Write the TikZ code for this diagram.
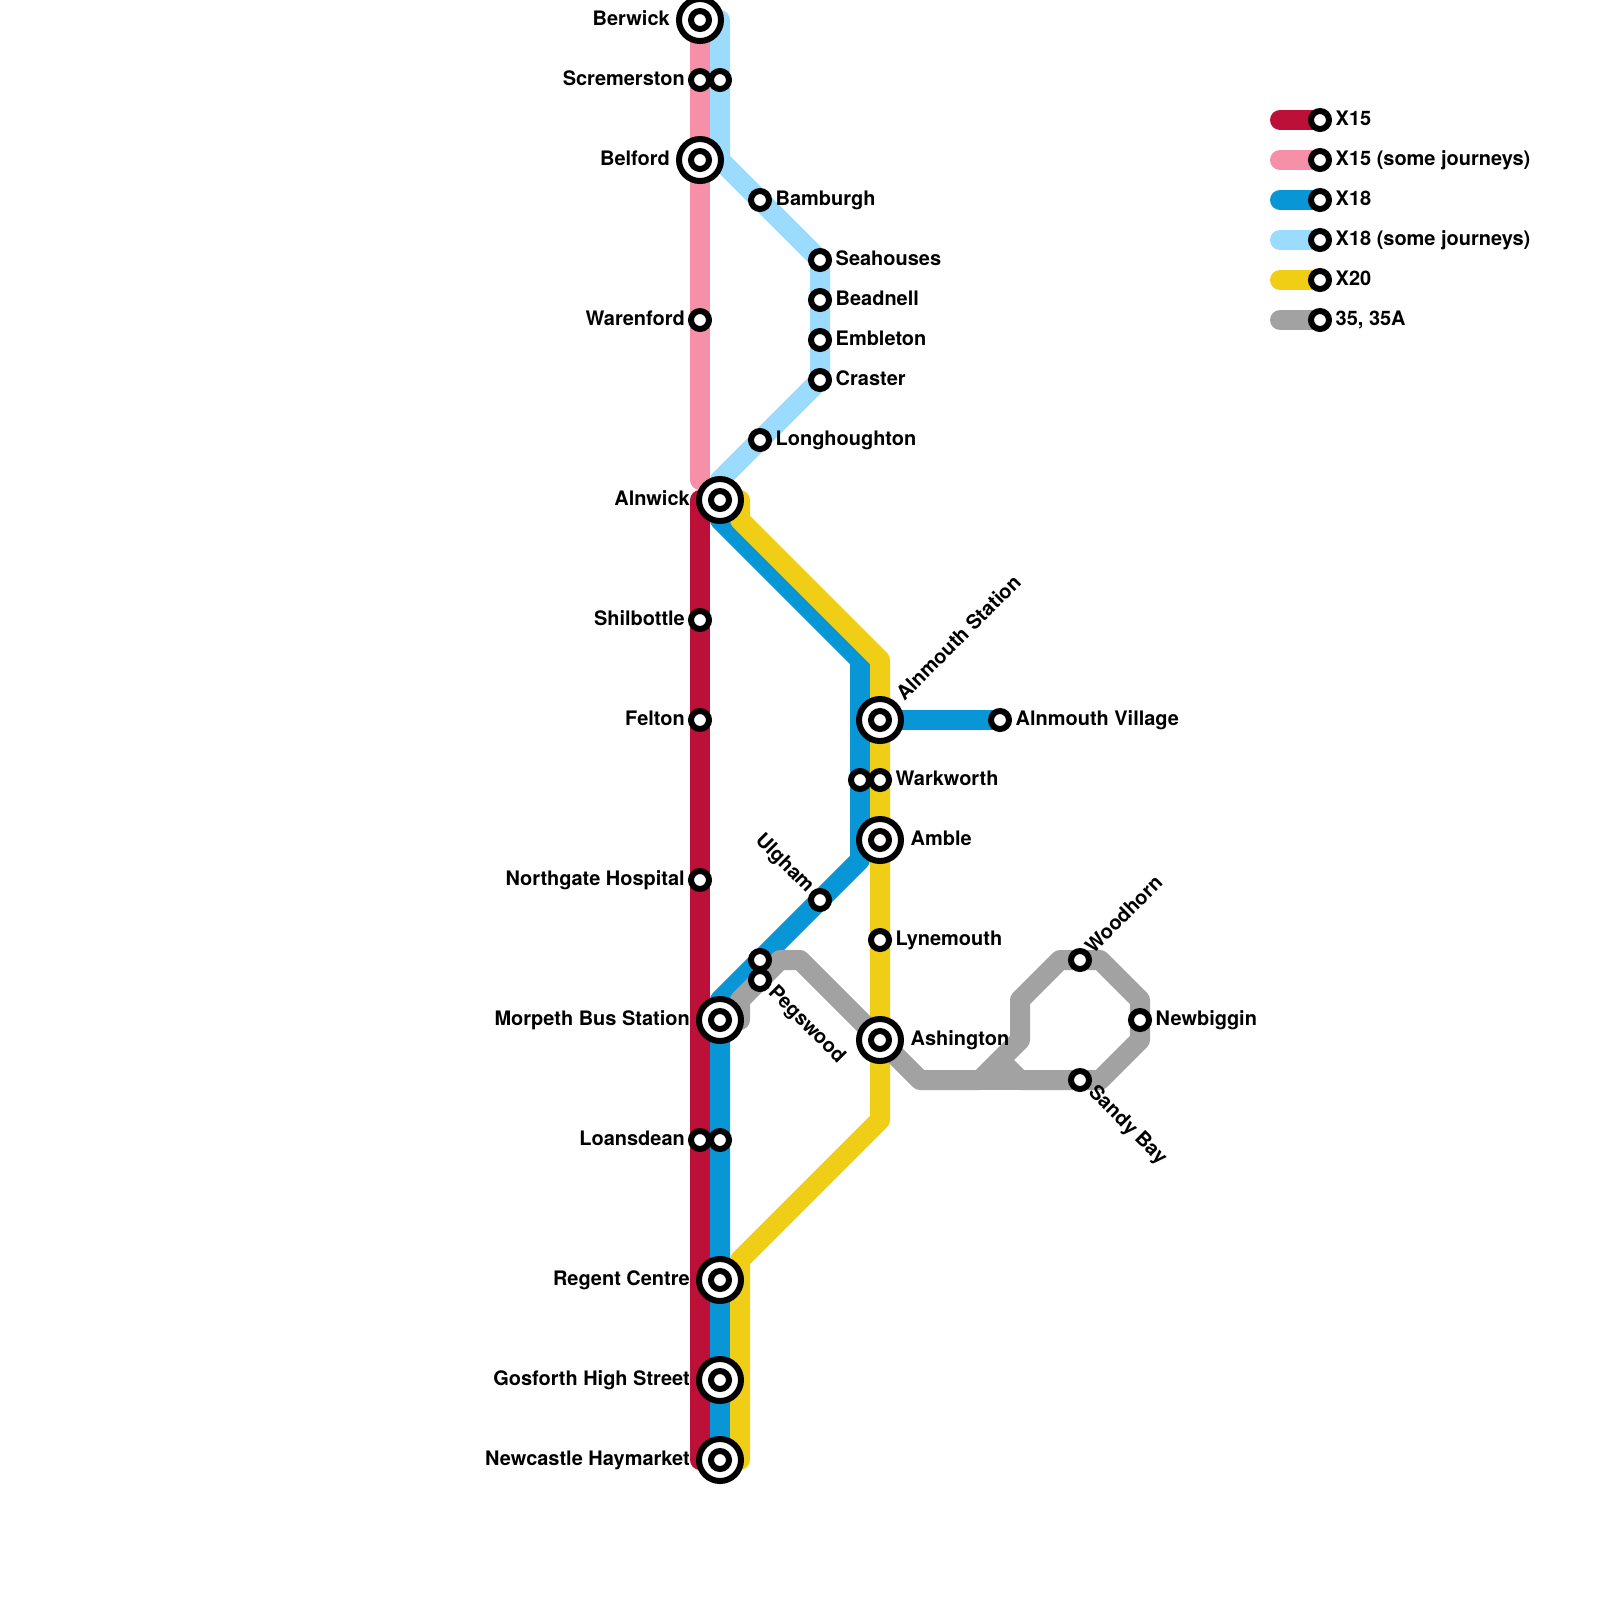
\documentclass[tikz,border=0pt]{standalone}
\usepackage{fontspec}
\setmainfont{TeX Gyre Heros}
\usetikzlibrary{backgrounds}
\definecolor{xfifteen}{HTML}{BD1038}
\definecolor{xfifteensome}{HTML}{F68FA8}
\definecolor{xeighteen}{HTML}{0896D7}
\definecolor{xeighteensome}{HTML}{9BDBFE}
\definecolor{xtwenty}{HTML}{F0CE15}
\definecolor{thirtyfive}{HTML}{A2A2A2}
\tikzset{
route/.style={line width=0.2cm,line cap=round,line join=round},
stopnode/.style={circle,draw=black,fill=white,line width=0.06cm,minimum size=0.18cm,inner sep=0pt},
hubnode/.style={circle,draw=black,fill=white,line width=0.06cm,minimum size=0.42cm,inner sep=0pt,
  path picture={\draw [black,line width=0.06cm] (path picture bounding box.center) circle (0.09cm);}},
place/.style={inner sep=0pt,font=\bfseries\fontsize{5.68pt}{6pt}\selectfont,text=black},
placer/.style={place,anchor=base west,xshift=0.15cm,yshift=-0.05cm},
placel/.style={place,anchor=base east,xshift=-0.145cm,yshift=-0.05cm},
hubr/.style={place,anchor=base west,xshift=0.3cm,yshift=-0.05cm},
hubl/.style={place,anchor=base east,xshift=-0.295cm,yshift=-0.05cm},
placeup/.style={place,anchor=base west,rotate=45},
placedown/.style={place,anchor=base west,rotate=-45},
placedownl/.style={place,anchor=base east,rotate=-45}
}
\begin{document}
\begin{tikzpicture}[x=0.2cm,y=0.2cm]
\useasboundingbox (0,0) rectangle (80,-80);
\node [hubnode] (berwick) at (35,-1) {};
\node [stopnode] (scremerston) at (35,-4) {};
\node [stopnode] (scremerstonb) at (36,-4) {};
\node [hubnode] (belford) at (35,-8) {};
\node [stopnode] (warenford) at (35,-16) {};
\node [hubnode] (alnwick) at (36,-25) {};
\node [stopnode] (shilbottle) at (35,-31) {};
\node [stopnode] (felton) at (35,-36) {};
\node [stopnode] (northgate) at (35,-44) {};
\node [hubnode] (morpeth) at (36,-51) {};
\node [stopnode] (loansdean) at (35,-57) {};
\node [stopnode] (loansdeanb) at (36,-57) {};
\node [hubnode] (regent) at (36,-64) {};
\node [hubnode] (gosforth) at (36,-69) {};
\node [hubnode] (newcastle) at (36,-73) {};
\node [stopnode] (bamburgh) at (38,-10) {};
\node [stopnode] (seahouses) at (41,-13) {};
\node [stopnode] (beadnell) at (41,-15) {};
\node [stopnode] (embleton) at (41,-17) {};
\node [stopnode] (craster) at (41,-19) {};
\node [stopnode] (longhoughton) at (38,-22) {};
\node [hubnode] (alnmouth) at (44,-36) {};
\node [stopnode] (village) at (50,-36) {};
\node [stopnode] (warkworthb) at (43,-39) {};
\node [stopnode] (warkworth) at (44,-39) {};
\node [hubnode] (amble) at (44,-42) {};
\node [stopnode] (ulgham) at (41,-45) {};
\node [stopnode] (lynemouth) at (44,-47) {};
\node [stopnode] (pegswoodb) at (38,-48) {};
\node [stopnode] (pegswood) at (38,-49) {};
\node [hubnode] (ashington) at (44,-52) {};
\node [stopnode] (woodhorn) at (54,-48) {};
\node [stopnode] (newbiggin) at (57,-51) {};
\node [stopnode] (sandybay) at (54,-54) {};
\node [stopnode] (keya) at (66,-6) {};
\node [stopnode] (keyb) at (66,-8) {};
\node [stopnode] (keyc) at (66,-10) {};
\node [stopnode] (keyd) at (66,-12) {};
\node [stopnode] (keye) at (66,-14) {};
\node [stopnode] (keyf) at (66,-16) {};
\coordinate (pinkend) at (35,-24);
\coordinate (redtop) at (35,-25);
\coordinate (redend) at (35,-73);
\coordinate (skyfrom) at (36,-1);
\coordinate (skya) at (36,-8);
\coordinate (skyb) at (36,-24);
\coordinate (bluea) at (36,-26);
\coordinate (blueb) at (43,-33);
\coordinate (bluec) at (43,-43);
\coordinate (blued) at (36,-50);
\coordinate (yellowfrom) at (37,-25);
\coordinate (yellowa) at (37,-26);
\coordinate (yellowb) at (44,-33);
\coordinate (yellowc) at (44,-56);
\coordinate (yellowd) at (37,-63);
\coordinate (yellowend) at (37,-73);
\coordinate (greyfrom) at (37,-51);
\coordinate (greya) at (37,-50);
\coordinate (greyb) at (39,-48);
\coordinate (greyc) at (40,-48);
\coordinate (greyd) at (46,-54);
\coordinate (greye) at (49,-54);
\coordinate (greyf) at (51,-52);
\coordinate (greyg) at (51,-50);
\coordinate (greyh) at (53,-48);
\coordinate (greyi) at (55,-48);
\coordinate (greyj) at (57,-50);
\coordinate (greyk) at (57,-52);
\coordinate (greyl) at (55,-54);
\coordinate (greym) at (51,-54);
\coordinate (greyend) at (50,-53);
\coordinate (keyfroma) at (64,-6);
\coordinate (keyfromb) at (64,-8);
\coordinate (keyfromc) at (64,-10);
\coordinate (keyfromd) at (64,-12);
\coordinate (keyfrome) at (64,-14);
\coordinate (keyfromf) at (64,-16);
\begin{scope}[on background layer]
\draw [route,xfifteensome] (berwick.center) -- (pinkend);
\draw [route,xfifteen] (redtop) -- (redend);
\draw [route,xeighteensome] (skyfrom) -- (skya) -- (seahouses.center) -- (craster.center) -- (skyb) -- (alnwick.center);
\draw [route,xeighteen] (alnwick.center) -- (bluea) -- (blueb) -- (bluec) -- (blued) -- (newcastle.center);
\draw [route,xeighteen] (alnmouth.center) -- (village.center);
\draw [route,xtwenty] (yellowfrom) -- (yellowa) -- (yellowb) -- (yellowc) -- (yellowd) -- (yellowend);
\draw [route,thirtyfive] (greyfrom) -- (greya) -- (greyb) -- (greyc) -- (ashington.center) -- (greyd) -- (greye) -- (greyf) -- (greyg) -- (greyh) -- (greyi) -- (greyj) -- (greyk) -- (greyl) -- (greym) -- (greyend);
\draw [route,thirtyfive] (greye) -- (greym);
\draw [route,xfifteen] (keyfroma) -- (keya.center);
\draw [route,xfifteensome] (keyfromb) -- (keyb.center);
\draw [route,xeighteen] (keyfromc) -- (keyc.center);
\draw [route,xeighteensome] (keyfromd) -- (keyd.center);
\draw [route,xtwenty] (keyfrome) -- (keye.center);
\draw [route,thirtyfive] (keyfromf) -- (keyf.center);
\end{scope}
\node [hubl] (berwicktext) at (berwick.center) {Berwick};
\node [placel] (scremerstontext) at (scremerston.center) {Scremerston};
\node [hubl] (belfordtext) at (belford.center) {Belford};
\node [placel] (warenfordtext) at (warenford.center) {Warenford};
\node [hubl] (alnwicktext) at (alnwick.center) {Alnwick};
\node [placel] (shilbottletext) at (shilbottle.center) {Shilbottle};
\node [placel] (feltontext) at (felton.center) {Felton};
\node [placel] (northgatetext) at (northgate.center) {Northgate Hospital};
\node [hubl] (morpethtext) at (morpeth.center) {Morpeth Bus Station};
\node [placel] (loansdeantext) at (loansdean.center) {Loansdean};
\node [hubl] (regenttext) at (regent.center) {Regent Centre};
\node [hubl] (gosforthtext) at (gosforth.center) {Gosforth High Street};
\node [hubl] (newcastletext) at (newcastle.center) {Newcastle Haymarket};
\node [placer] (bamburghtext) at (bamburgh.center) {Bamburgh};
\node [placer] (seahousestext) at (seahouses.center) {Seahouses};
\node [placer] (beadnelltext) at (beadnell.center) {Beadnell};
\node [placer] (embletontext) at (embleton.center) {Embleton};
\node [placer] (crastertext) at (craster.center) {Craster};
\node [placer] (longhoughtontext) at (longhoughton.center) {Longhoughton};
\node [placeup] (alnmouthtext) at ([xshift=0.24cm,yshift=0.18cm]alnmouth.center) {Alnmouth Station};
\node [placer] (villagetext) at (village.center) {Alnmouth Village};
\node [placer] (warkworthtext) at (warkworth.center) {Warkworth};
\node [hubr] (ambletext) at (amble.center) {Amble};
\node [placedownl] (ulghamtext) at ([xshift=-0.13cm,yshift=0.06cm]ulgham.center) {Ulgham};
\node [placer] (lynemouthtext) at (lynemouth.center) {Lynemouth};
\node [placedown] (pegswoodtext) at ([xshift=0.07cm,yshift=-0.13cm]pegswood.center) {Pegswood};
\node [hubr] (ashingtontext) at (ashington.center) {Ashington};
\node [placeup] (woodhorntext) at ([xshift=0.13cm,yshift=0.05cm]woodhorn.center) {Woodhorn};
\node [placer] (newbiggintext) at (newbiggin.center) {Newbiggin};
\node [placedown] (sandybaytext) at ([xshift=0.07cm,yshift=-0.13cm]sandybay.center) {Sandy Bay};
\node [placer] (keyatext) at (keya.center) {X15};
\node [placer] (keybtext) at (keyb.center) {X15 (some journeys)};
\node [placer] (keyctext) at (keyc.center) {X18};
\node [placer] (keydtext) at (keyd.center) {X18 (some journeys)};
\node [placer] (keyetext) at (keye.center) {X20};
\node [placer] (keyftext) at (keyf.center) {35, 35A};
\end{tikzpicture}
\end{document}
